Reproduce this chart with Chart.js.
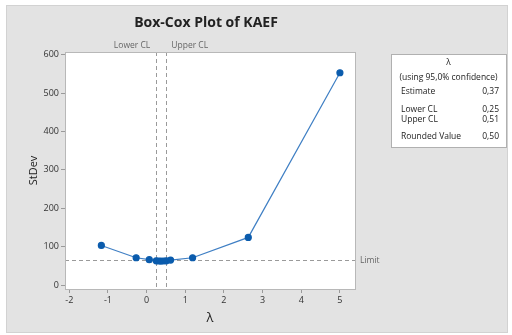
<!DOCTYPE html>
<html>
<head>
<meta charset="utf-8">
<script src="https://cdn.jsdelivr.net/npm/chart.js@4/dist/chart.umd.min.js"></script>
<style>
  html, body { margin: 0; padding: 0; background: #ffffff; }
  #panel { position: absolute; left: 6px; top: 5px; width: 500px; height: 326px;
           background: #e3e3e3; border: 1px solid #d2d2d2; }
  #wrap { position: absolute; left: 0; top: 0; width: 512px; height: 335px; }
</style>
</head>
<body>
<div id="panel"></div>
<div id="wrap"><canvas id="c" width="512" height="335"></canvas></div>
<script>
// Box-Cox search results: lambda vs. pooled standard deviation
const lambdas = [-1.17, -0.27, 0.07, 0.25, 0.31, 0.37, 0.44, 0.51, 0.62, 1.19, 2.63, 5.0];
const stdevs  = [103, 71, 66, 63, 62.6, 62.4, 62.6, 63, 65, 71, 124, 553];

const xTicks = [-2, -1, 0, 1, 2, 3, 4, 5];
const yTicks = [0, 100, 200, 300, 400, 500, 600];

const limitValue = 64.5;
const lowerCL = 0.25;
const upperCL = 0.51;

const summaryRows = [
  ["Estimate", "0,37"],
  ["Lower CL", "0,25"],
  ["Upper CL", "0,51"],
  ["Rounded Value", "0,50"]
];

const FONT = "'Open Sans', 'Noto Sans', sans-serif";

const decorations = {
  id: 'decorations',
  beforeDraw(chart) {
    const { ctx, chartArea: a } = chart;
    ctx.save();
    ctx.fillStyle = '#ffffff';
    ctx.fillRect(a.left, a.top, a.right - a.left, a.bottom - a.top);
    ctx.restore();
  },
  beforeDatasetsDraw(chart) {
    const { ctx, chartArea: a, scales: { x, y } } = chart;
    ctx.save();
    ctx.strokeStyle = '#9a9a9a';
    ctx.lineWidth = 1;
    ctx.setLineDash([4, 3]);
    // horizontal limit line
    const yl = Math.round(y.getPixelForValue(limitValue)) + 0.5;
    ctx.beginPath(); ctx.moveTo(a.left, yl); ctx.lineTo(a.right, yl); ctx.stroke();
    // confidence limits
    [lowerCL, upperCL].forEach(v => {
      const xp = Math.round(x.getPixelForValue(v)) + 0.5;
      ctx.beginPath(); ctx.moveTo(xp, a.top); ctx.lineTo(xp, a.bottom); ctx.stroke();
    });
    ctx.restore();
  },
  afterDraw(chart) {
    const { ctx, chartArea: a, scales: { x, y } } = chart;
    ctx.save();
    // plot frame
    ctx.strokeStyle = '#b8b8b8';
    ctx.lineWidth = 1;
    ctx.strokeRect(Math.round(a.left) + 0.5, Math.round(a.top) + 0.5,
                   Math.round(a.right - a.left), Math.round(a.bottom - a.top));

    // title
    ctx.fillStyle = '#222222';
    ctx.font = "bold 14px " + FONT;
    ctx.textAlign = 'center';
    ctx.textBaseline = 'middle';
    ctx.fillText('Box-Cox Plot of KAEF', 206, 23);

    // y-axis title
    ctx.save();
    ctx.translate(34, (a.top + a.bottom) / 2);
    ctx.rotate(-Math.PI / 2);
    ctx.font = "11px " + FONT;
    ctx.fillText('StDev', 0, 0);
    ctx.restore();

    // x-axis title
    ctx.font = "13px " + FONT;
    ctx.fillText('λ', (a.left + a.right) / 2, 318);

    // CL labels
    ctx.font = "8.5px " + FONT;
    ctx.fillStyle = '#666666';
    ctx.textBaseline = 'middle';
    ctx.textAlign = 'right';
    ctx.fillText('Lower CL', x.getPixelForValue(lowerCL) - 6, 46);
    ctx.textAlign = 'left';
    ctx.fillText('Upper CL', x.getPixelForValue(upperCL) + 5, 46);

    // limit label
    ctx.fillText('Limit', a.right + 5, y.getPixelForValue(limitValue));

    // summary box
    const bx = 391, by = 54, bw = 115, bh = 93;
    ctx.fillStyle = '#ffffff';
    ctx.fillRect(bx, by, bw, bh);
    ctx.strokeStyle = '#b0b0b0';
    ctx.strokeRect(bx + 0.5, by + 0.5, bw, bh);
    ctx.fillStyle = '#222222';
    ctx.font = "8.5px " + FONT;
    ctx.textAlign = 'center';
    ctx.fillText('λ', bx + bw / 2, 63);
    ctx.fillText('(using 95,0% confidence)', bx + bw / 2, 78);
    const rowY = [92, 110, 120, 137];
    summaryRows.forEach((r, i) => {
      ctx.textAlign = 'left';
      ctx.fillText(r[0], 401, rowY[i]);
      ctx.textAlign = 'right';
      ctx.fillText(r[1], 499, rowY[i]);
    });
    ctx.restore();
  }
};

new Chart(document.getElementById('c'), {
  type: 'scatter',
  data: {
    datasets: [{
      data: lambdas.map((l, i) => ({ x: l, y: stdevs[i] })),
      showLine: true,
      borderColor: '#3f7fc4',
      borderWidth: 1.2,
      pointBackgroundColor: '#0b5cad',
      pointBorderColor: '#0b5cad',
      pointRadius: 3,
      pointHoverRadius: 3
    }]
  },
  options: {
    responsive: false,
    animation: false,
    events: [],
    layout: { padding: { left: 0, right: 157, top: 52, bottom: 0 } },
    plugins: { legend: { display: false }, tooltip: { enabled: false } },
    scales: {
      x: {
        type: 'linear',
        min: -2.11, max: 5.39,
        afterBuildTicks(s) { s.ticks = xTicks.map(v => ({ value: v })); },
        afterFit(s) { s.height = 46; },
        grid: { drawOnChartArea: false, drawTicks: true, tickLength: 4, color: '#9a9a9a' },
        border: { display: false },
        ticks: { color: '#333333', font: { family: FONT, size: 9 }, padding: 2 }
      },
      y: {
        type: 'linear',
        min: -10.4, max: 607,
        afterBuildTicks(s) { s.ticks = yTicks.map(v => ({ value: v })); },
        afterFit(s) { s.width = 65; },
        grid: { drawOnChartArea: false, drawTicks: true, tickLength: 4, color: '#9a9a9a' },
        border: { display: false },
        ticks: { color: '#333333', font: { family: FONT, size: 9 }, padding: 2 }
      }
    }
  },
  plugins: [decorations]
});
</script>
</body>
</html>
